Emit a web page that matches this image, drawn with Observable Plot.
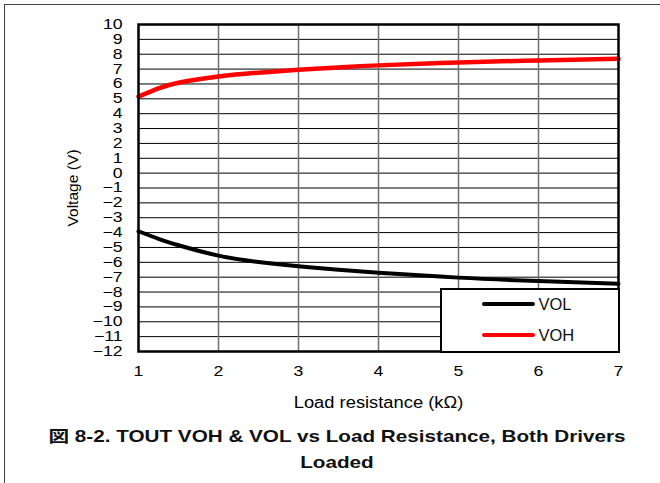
<!DOCTYPE html>
<html>
<head>
<meta charset="utf-8">
<script src="https://cdn.jsdelivr.net/npm/d3@7"></script>
<script src="https://cdn.jsdelivr.net/npm/@observablehq/plot@0.6"></script>
<style>
  html, body { margin: 0; padding: 0; background: #fff; }
  #wrap { position: relative; width: 660px; height: 483px; overflow: hidden; font-family: "Liberation Sans", Arial, sans-serif; }
  #chart { position: absolute; left: 0; top: 0; }
  #border { position: absolute; left: 4px; top: 4px; width: 660px; height: 600px; border-top: 1.5px solid #444; border-left: 1.5px solid #444; pointer-events: none; }
  #legend { position: absolute; left: 440px; top: 288px; width: 179.5px; height: 64.5px; box-sizing: border-box; border: 2.5px solid #000; background: #fff; }
  .lg-line { position: absolute; height: 4px; border-radius: 2px; }
  .lg-text { position: absolute; font-size: 16.5px; line-height: 16.5px; color: #111; }
  #caption { position: absolute; left: 7px; top: 424px; width: 660px; text-align: center; font-weight: bold; font-size: 16.3px; line-height: 25.7px; color: #111; transform: scaleX(1.27); transform-origin: 330px 0; font-family: "Liberation Sans", Arial, "Noto Sans CJK JP", sans-serif; }
</style>
</head>
<body>
<div id="wrap">
  <div id="chart"></div>
  <div id="legend"></div>
  <div id="caption">図 8-2. TOUT VOH &amp; VOL vs Load Resistance, Both Drivers<br>Loaded</div>
  <div id="border"></div>
</div>
<script>
// ---- data ----
const loadK = [1, 1.25, 1.5, 2, 2.5, 3, 3.5, 4, 5, 6, 7];
const vol   = [-3.91, -4.42, -4.85, -5.55, -5.98, -6.27, -6.5, -6.7, -7.03, -7.26, -7.44];
const voh   = [5.15, 5.7, 6.08, 6.5, 6.76, 6.95, 7.11, 7.25, 7.45, 7.58, 7.69];
const seriesNames  = ["VOL", "VOH"];
const seriesColors = ["#000000", "#ff0000"];
const xTicks = [1, 2, 3, 4, 5, 6, 7];
const yTicks = d3.range(-12, 11);
const xLabel = "Load resistance (kΩ)";
const yLabel = "Voltage (V)";

const volData = loadK.map((x, i) => ({x, y: vol[i]}));
const vohData = loadK.map((x, i) => ({x, y: voh[i]}));

const plot = Plot.plot({
  width: 660,
  height: 420,
  marginLeft: 138,
  marginRight: 42,
  marginTop: 24,
  marginBottom: 69,
  style: {background: "transparent", fontFamily: "'Liberation Sans', Arial, sans-serif", color: "#000"},
  x: {domain: [1, 7]},
  y: {domain: [-12, 10]},
  marks: [
    Plot.gridY({ticks: yTicks, stroke: "#000", strokeOpacity: 1, strokeWidth: 1}),
    Plot.gridX({ticks: xTicks.slice(1, -1), stroke: "#707070", strokeOpacity: 1, strokeWidth: 1.5}),
    Plot.line(volData, {x: "x", y: "y", stroke: seriesColors[0], strokeWidth: 4, curve: "natural"}),
    Plot.line(vohData, {x: "x", y: "y", stroke: seriesColors[1], strokeWidth: 4.5, curve: "natural"}),
    Plot.frame({stroke: "#000", strokeWidth: 2.5}),
    Plot.axisX({ticks: xTicks, tickSize: 0, tickPadding: 15, fontSize: 14, tickFormat: d => String(d), label: xLabel, labelAnchor: "center", labelOffset: 56, labelArrow: "none"}),
    Plot.axisY({ticks: yTicks, tickSize: 0, tickPadding: 16, fontSize: 14, label: yLabel, labelAnchor: "center", labelOffset: 71, labelArrow: "none"})
  ]
});
document.getElementById("chart").appendChild(plot);

// remove any label arrows, then stretch text horizontally as in the reference
plot.querySelectorAll('g[aria-label$="-axis label"] text').forEach(t => {
  t.textContent = t.textContent.replace(/[\u2190-\u2193]/g, "").trim();
});
function stretch(sel, factor, fs) {
  plot.querySelectorAll(sel).forEach(t => {
    if (fs) t.style.fontSize = fs + "px";
    const L = t.getComputedTextLength();
    t.setAttribute("textLength", (L * factor).toFixed(2));
    t.setAttribute("lengthAdjust", "spacingAndGlyphs");
  });
}
stretch('g[aria-label="x-axis tick label"] text', 1.26);
stretch('g[aria-label="y-axis tick label"] text', 1.26);
stretch('g[aria-label="x-axis label"] text', 1.16, 15.8);
stretch('g[aria-label="y-axis label"] text', 1.04, 15);

// legend
const legend = document.getElementById("legend");
const lineTops = [302 - 288, 333 - 288];
const textTops = [296.6 - 288, 327.4 - 288];
seriesNames.forEach((name, i) => {
  const ln = document.createElement("div");
  ln.className = "lg-line";
  ln.style.left = (482 - 440 - 2.5) + "px";
  ln.style.top = (lineTops[i] - 2.5) + "px";
  ln.style.width = "53px";
  ln.style.background = seriesColors[i];
  legend.appendChild(ln);
  const tx = document.createElement("div");
  tx.className = "lg-text";
  tx.style.left = (539 - 440 - 2.5) + "px";
  tx.style.top = (textTops[i] - 2.5) + "px";
  tx.textContent = name;
  legend.appendChild(tx);
});
</script>
</body>
</html>
